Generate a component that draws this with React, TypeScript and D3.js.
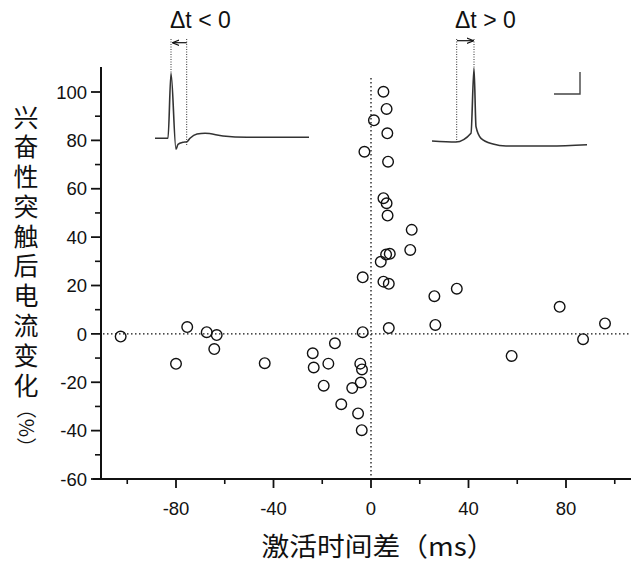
import React from 'react';
import * as d3 from 'd3';

// 激活时间差 (ms) vs 兴奋性突触后电流变化 (%)
const timeDiff = [
  -102.7, -80, -75.4, -67.4, -63.3, -64.3, -43.6, -23.9, -23.5, -19.4, -17.5, -14.8,
  -12.2, -7.7, -5.3, -4.4, -4.2, -3.8, -3.7, -3.4, -3.4, -2.7, 1.2, 5.1, 6.4, 6.7, 7,
  5.1, 6.4, 6.8, 16.7, 16.1, 6.2, 7.7, 4, 5.1, 7.3, 26, 35.2, 26.4, 7.3, 77.4, 96, 87, 57.7,
];
const epscChange = [
  -1.1, -12.4, 2.8, 0.7, -0.5, -6.3, -12.1, -8, -13.9, -21.4, -12.3, -3.9,
  -29.1, -22.4, -32.9, -12.3, -20.1, -39.8, -14.7, 0.7, 23.4, 75.3, 88.3, 100.1, 93, 82.9, 71.2,
  56.1, 54, 48.9, 43, 34.7, 32.8, 33.1, 29.8, 21.6, 20.7, 15.6, 18.7, 3.7, 2.4, 11.2, 4.3, -2.2, -9.1,
];

const xMajorTicks = [-80, -40, 0, 40, 80];
const xMinorTicks = [-100, -60, -20, 20, 60, 100];
const yMajorTicks = [-60, -40, -20, 0, 20, 40, 60, 80, 100];
const yMinorTicks = [-50, -30, -10, 10, 30, 50, 70, 90];

const yTitle = '兴奋性突触后电流变化';
const yTitleUnit = '（%）';
const xTitle = '激活时间差（ms）';

// inset traces: [time, amplitude] in arbitrary units
const traceBefore: [number, number][] = [
  [0, 0], [13, 0], [16, 65], [21, -11], [23, -6], [28, -4], [32, -3.4], [35, 0],
  [42, 4.3], [50, 5], [68, 2.3], [92, 1], [154, 1],
];
const traceAfter: [number, number][] = [
  [0, 0], [24, -1], [39, 7.7], [42, 72.7], [44, 14.3], [49, 2.7], [61, -3],
  [74, -5], [118, -5], [155, -3.7],
];

const W = 631;
const H = 565;
const numFont = '"Liberation Sans", Arial, sans-serif';
const cjkFont = '"Noto Sans CJK SC", sans-serif';
const ink = '#111';

export default function App() {
  const x = d3.scaleLinear().domain([-80, 80]).range([176, 566]);
  const y = d3.scaleLinear().domain([-60, 100]).range([479, 92]);

  const axisX = 101;
  const axisY = 479;

  // inset scales
  const ixL = d3.scaleLinear().domain([0, 154]).range([155, 309]);
  const ixR = d3.scaleLinear().domain([0, 155]).range([432, 587]);
  const iyL = d3.scaleLinear().domain([0, 65]).range([138.3, 73.3]);
  const iyR = d3.scaleLinear().domain([0, 72.7]).range([141, 68.3]);
  const lineL = d3.line<[number, number]>().x(d => ixL(d[0])).y(d => iyL(d[1])).curve(d3.curveMonotoneX);
  const lineR = d3.line<[number, number]>().x(d => ixR(d[0])).y(d => iyR(d[1])).curve(d3.curveMonotoneX);

  const points = timeDiff.map((t, i) => ({ t, v: epscChange[i] }));

  return (
    <svg
      width={W}
      height={H}
      viewBox={`0 0 ${W} ${H}`}
      style={{ position: 'absolute', left: 0, top: 0, background: '#fff' }}
    >
      <defs>
        <marker id="arr" viewBox="0 0 10 10" refX="9" refY="5" markerWidth="6" markerHeight="6" orient="auto">
          <path d="M0,1 L10,5 L0,9" fill="none" stroke={ink} strokeWidth={1.6} />
        </marker>
      </defs>

      {/* reference lines */}
      <line x1={axisX + 2} x2={W} y1={y(0)} y2={y(0)} stroke={ink} strokeWidth={1.3} strokeDasharray="1.5,2.5" />
      <line x1={x(0)} x2={x(0)} y1={78} y2={axisY} stroke={ink} strokeWidth={1.3} strokeDasharray="1.5,2.5" />

      {/* y axis */}
      <line x1={axisX} x2={axisX} y1={67} y2={axisY + 1} stroke={ink} strokeWidth={2} />
      {yMajorTicks.map(v => (
        <g key={`ym${v}`}>
          <line x1={axisX - 10} x2={axisX} y1={y(v)} y2={y(v)} stroke={ink} strokeWidth={1.8} />
          <text x={87} y={y(v)} dy="0.36em" textAnchor="end" fontFamily={numFont} fontSize={18.5} fill={ink}>
            {v}
          </text>
        </g>
      ))}
      {yMinorTicks.map(v => (
        <line key={`yn${v}`} x1={axisX - 6} x2={axisX} y1={y(v)} y2={y(v)} stroke={ink} strokeWidth={1.6} />
      ))}

      {/* x axis */}
      <line x1={93} x2={W} y1={axisY} y2={axisY} stroke={ink} strokeWidth={2} />
      {xMajorTicks.map(v => (
        <g key={`xm${v}`}>
          <line x1={x(v)} x2={x(v)} y1={axisY} y2={axisY + 9} stroke={ink} strokeWidth={1.8} />
          <text x={x(v)} y={515} textAnchor="middle" fontFamily={numFont} fontSize={18.5} fill={ink}>
            {v}
          </text>
        </g>
      ))}
      {xMinorTicks.map(v => (
        <line key={`xn${v}`} x1={x(v)} x2={x(v)} y1={axisY} y2={axisY + 5} stroke={ink} strokeWidth={1.6} />
      ))}

      {/* data */}
      {points.map((p, i) => (
        <circle key={i} cx={x(p.t)} cy={y(p.v)} r={5.3} fill="none" stroke={ink} strokeWidth={1.4} />
      ))}

      {/* inset: Δt < 0 */}
      <text x={170} y={28} fontFamily={numFont} fontSize={23} fill={ink}>Δt &lt; 0</text>
      <line x1={171} x2={171} y1={39} y2={74} stroke="#333" strokeWidth={1} strokeDasharray="1,1.5" />
      <line x1={186.7} x2={186.7} y1={39} y2={146} stroke="#333" strokeWidth={1} strokeDasharray="1,1.5" />
      <line x1={186.7} x2={173} y1={42.7} y2={42.7} stroke={ink} strokeWidth={1.2} markerEnd="url(#arr)" />
      <path d={lineL(traceBefore) ?? ''} fill="none" stroke="#333" strokeWidth={1.6} />

      {/* inset: Δt > 0 */}
      <text x={455} y={28} fontFamily={numFont} fontSize={23} fill={ink}>Δt &gt; 0</text>
      <line x1={456.7} x2={456.7} y1={39} y2={142} stroke="#333" strokeWidth={1} strokeDasharray="1,1.5" />
      <line x1={474} x2={474} y1={39} y2={69} stroke="#333" strokeWidth={1} strokeDasharray="1,1.5" />
      <line x1={457} x2={473} y1={40.7} y2={40.7} stroke={ink} strokeWidth={1.2} markerEnd="url(#arr)" />
      <path d={lineR(traceAfter) ?? ''} fill="none" stroke="#333" strokeWidth={1.6} />

      {/* scale bar */}
      <polyline points="580,72 580,94 554,94" fill="none" stroke="#444" strokeWidth={1.4} />

      {/* y title, vertical writing */}
      <text
        x={26}
        y={104.5}
        fontFamily={cjkFont}
        fontSize={25}
        letterSpacing={4.8}
        fill={ink}
        style={{ writingMode: 'vertical-rl' }}
      >
        {yTitle}
      </text>
      <text
        transform="translate(26,428) rotate(90)"
        textAnchor="middle"
        dy="0.35em"
        fontFamily={cjkFont}
        fontSize={20}
        fill={ink}
      >
        {yTitleUnit}
      </text>

      {/* x title */}
      <text
        x={378}
        y={556}
        textAnchor="middle"
        fontFamily={cjkFont}
        fontSize={26}
        textLength={233}
        lengthAdjust="spacingAndGlyphs"
        fill={ink}
      >
        {xTitle}
      </text>
    </svg>
  );
}
